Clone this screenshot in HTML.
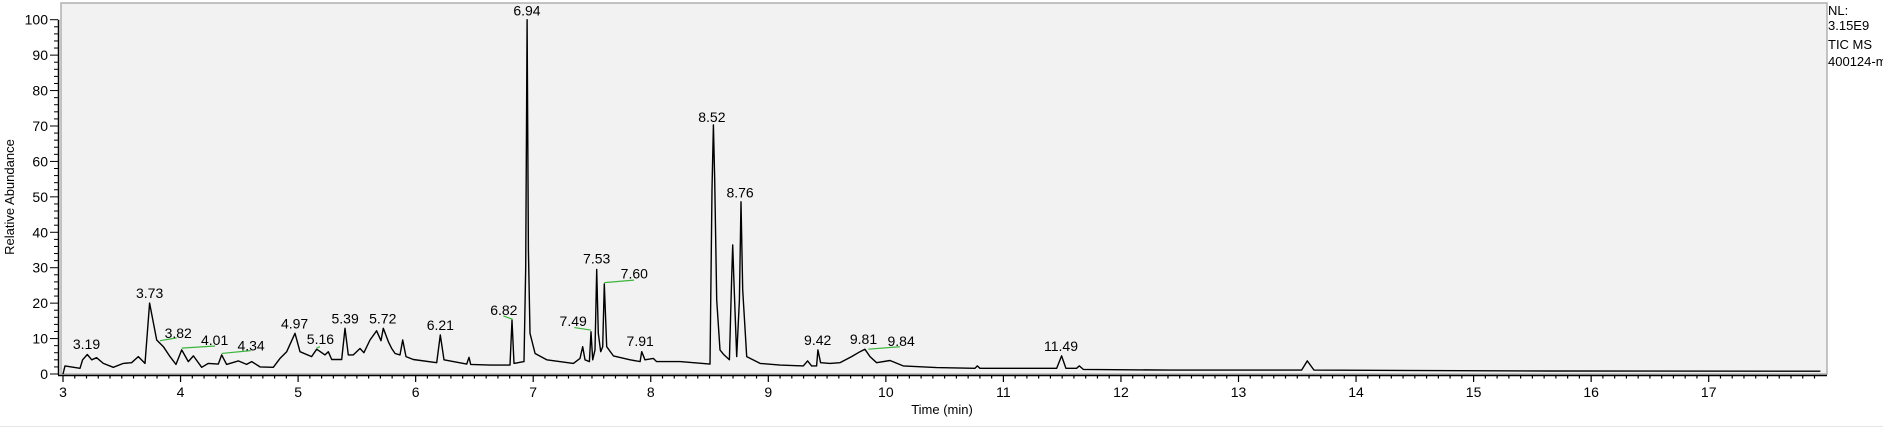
<!DOCTYPE html>
<html><head><meta charset="utf-8"><style>
body{margin:0;background:#fff;width:1883px;height:428px;overflow:hidden}
svg{display:block;font-family:"Liberation Sans",Arial,sans-serif}
</style></head><body>
<svg id="chart" width="1883" height="428">
<rect x="61" y="3" width="1766" height="371" fill="#f2f2f2" stroke="#b0b0b0" stroke-width="1.5"/>
<g id="axes"></g><g id="trace"></g><g id="labels"></g>
<text x="14" y="197" font-size="13" text-anchor="middle" transform="rotate(-90 14 197)">Relative Abundance</text>
<text x="942" y="414" font-size="13" text-anchor="middle">Time (min)</text>
<g font-size="13">
<text x="1828" y="15">NL:</text>
<text x="1828" y="30">3.15E9</text>
<text x="1828" y="49">TIC  MS</text>
<text x="1828" y="66">400124-m</text>
</g>
<line x1="0" y1="426.5" x2="1883" y2="426.5" stroke="#e6e6e6"/>
</svg>
<script>
const traceTimes=[3.0,3.017,3.145,3.167,3.207,3.244,3.286,3.343,3.428,3.513,3.584,3.641,3.698,3.737,3.797,3.854,3.91,3.961,4.01,4.066,4.109,4.18,4.236,4.321,4.35,4.392,4.491,4.562,4.605,4.676,4.789,4.846,4.903,4.974,5.016,5.115,5.158,5.229,5.257,5.286,5.371,5.399,5.427,5.47,5.527,5.56,5.612,5.668,5.705,5.725,5.768,5.796,5.825,5.867,5.89,5.918,5.98,6.179,6.21,6.241,6.434,6.454,6.468,6.633,6.803,6.82,6.837,6.922,6.936,6.948,6.959,6.973,7.016,7.115,7.342,7.398,7.421,7.441,7.478,7.492,7.506,7.526,7.54,7.554,7.574,7.591,7.605,7.625,7.682,7.824,7.909,7.923,7.951,8.022,8.05,8.249,8.504,8.521,8.533,8.544,8.561,8.589,8.618,8.669,8.689,8.697,8.708,8.731,8.754,8.768,8.782,8.816,8.93,9.1,9.298,9.334,9.368,9.411,9.422,9.445,9.524,9.609,9.709,9.78,9.822,9.865,9.921,10.035,10.148,10.432,10.758,10.778,10.8,11.453,11.495,11.532,11.623,11.646,11.68,12.417,13.537,13.585,13.642,15.65,17.95];
const traceValues=[0,2.3,1.6,4,5.5,4,4.6,3,1.9,3,3.2,4.9,3,20,9.6,7.7,4.9,2.7,6.8,3.5,5.1,1.9,3,2.8,5.4,2.7,3.7,2.7,3.5,2,1.9,4.4,6.3,11.5,6.3,4.9,7,5.4,6.3,4.1,4.1,12.9,5.4,5.4,7.2,6,9.6,12.2,9.4,12.9,9.1,7.2,5.8,5.4,9.6,4.9,4.1,3.2,11,4,2.8,4.7,2.7,2.5,2.5,15.2,3,3.5,30,100,35,11.5,5.8,4,3,4.4,7.7,4,3.5,11.9,4,6.8,29.5,11.5,6.3,7.7,25.4,7.7,5.1,4,3.5,6.3,4,4.4,3.5,3.5,2.8,52,70.3,54.8,20.9,6.8,5.6,4,27.5,36.4,25.6,4.9,20.9,48.6,23.7,4.9,3,2.5,2.3,3.7,2.3,2.3,6.8,3.2,3,3.2,4.9,6.3,7,4.9,3.2,3.8,2.3,1.8,1.6,2.3,1.6,1.6,5.1,1.6,1.6,2.3,1.3,1.1,1.1,3.7,1.1,0.85,0.8];
const peakLabels=["3.19","3.73","3.82","4.01","4.34","4.97","5.16","5.39","5.72","6.21","6.82","6.94","7.49","7.53","7.60","7.91","8.52","8.76","9.42","9.81","9.84","11.49"];
const labelTimes=[3.2,3.737,3.98,4.29,4.6,4.97,5.19,5.40,5.72,6.21,6.75,6.947,7.34,7.54,7.86,7.91,8.52,8.76,9.42,9.81,10.13,11.49];
const labelValues=[8.5,22.8,11.6,9.6,8.1,14.3,9.9,15.7,15.7,13.8,18.0,102.6,14.9,32.6,28.4,9.3,72.6,51.2,9.6,9.9,9.3,7.9];
const leaderStartT=[3.825,4.01,4.35,5.157,6.746,7.35,7.605,9.851];
const leaderStartV=[9.4,7.3,5.8,7.3,16.4,13.1,25.8,7.0];
const leaderEndT=[3.967,4.293,4.597,5.186,6.826,7.49,7.858,10.12];
const leaderEndV=[10.2,7.9,6.6,7.7,15.4,12.4,26.5,7.7];
const yTicks=[0,10,20,30,40,50,60,70,80,90,100];
const xTicks=[3,4,5,6,7,8,9,10,11,12,13,14,15,16,17];
const tMin=3,tMax=17.95;
const X=t=>63+(t-3)*117.55;
const Y=v=>374-v*3.543;
const NS="http://www.w3.org/2000/svg";
function mk(tag,attrs,parent){const e=document.createElementNS(NS,tag);for(const k in attrs)e.setAttribute(k,attrs[k]);parent.appendChild(e);return e;}
const axes=document.getElementById('axes');
let yl=mk('line',{x1:58.5,y1:Y(100),x2:58.5,y2:375,stroke:'#000','stroke-width':1.5},axes);


let xl=mk('line',{x1:58,y1:375.5,x2:1827,y2:375.5,stroke:'#000','stroke-width':1.5},axes);


for(let v=0;v<=100;v+=2){const major=v%10===0;
 const tk=mk('line',{x1:major?50:54,y1:Y(v),x2:58,y2:Y(v),stroke:'#000','stroke-width':1},axes);
 
 }
yTicks.forEach(v=>{const t=mk('text',{x:48,y:Y(v)+5,'font-size':14,'text-anchor':'end'},axes);t.textContent=v;
 
 });
for(let i=0;i*0.1+tMin<=tMax;i++){const t=tMin+i*0.1;const major=i%10===0;
 const tk=mk('line',{x1:X(t),y1:375,x2:X(t),y2:major?382:378.5,stroke:'#000','stroke-width':1.2},axes);
 
 }
xTicks.forEach(v=>{const t=mk('text',{x:X(v),y:397,'font-size':14,'text-anchor':'middle'},axes);t.textContent=v;
 
 });
const tr=document.getElementById('trace');
const pts=traceTimes.map((t,i)=>X(t).toFixed(1)+','+Y(traceValues[i]).toFixed(1)).join(' ');
const pl=mk('polyline',{points:pts,fill:'none',stroke:'#000','stroke-width':1.4,'stroke-linejoin':'round'},tr);


const lg=document.getElementById('labels');
leaderStartT.forEach((t0,k)=>{
 const ln=mk('line',{x1:X(t0),y1:Y(leaderStartV[k]),x2:X(leaderEndT[k]),y2:Y(leaderEndV[k]),stroke:'#3cb43c','stroke-width':1.2},lg);
 
 });
peakLabels.forEach((s,i)=>{const t=mk('text',{x:X(labelTimes[i]),y:Y(labelValues[i])+5,'font-size':14,'text-anchor':'middle'},lg);t.textContent=s;
 
 });
</script>
</body></html>
